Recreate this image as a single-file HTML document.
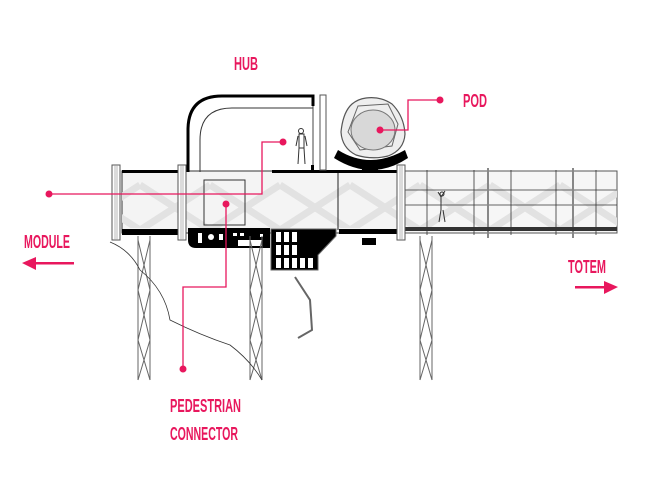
<!DOCTYPE html>
<html><head><meta charset="utf-8"><style>
html,body{margin:0;padding:0;background:#fff;width:646px;height:488px;overflow:hidden}
svg{display:block}
.lb{font-family:"Liberation Sans Narrow","Liberation Sans",sans-serif;font-weight:bold;font-size:18px;fill:#e8175d}
</style></head><body>
<svg width="646" height="488" viewBox="0 0 646 488" xmlns="http://www.w3.org/2000/svg">
<defs>
<pattern id="x" width="70" height="60" patternUnits="userSpaceOnUse">
<path d="M0 5 L70 50 M0 50 L70 5" stroke="#e2e2e2" stroke-width="7" fill="none"/>
</pattern>
</defs>
<rect x="122" y="171" width="278" height="62" fill="#f4f4f4" stroke="#333" stroke-width="1"/>
<rect x="122" y="176" width="278" height="52" fill="url(#x)"/>
<rect x="400" y="171" width="217" height="62" fill="#f6f6f6" stroke="#555" stroke-width="1"/>
<rect x="400" y="176" width="217" height="52" fill="url(#x)"/>
<g stroke="#333" stroke-width="0.8">
<line x1="400" y1="190" x2="617" y2="190"/><line x1="400" y1="205" x2="617" y2="205"/>
<line x1="427" y1="170" x2="427" y2="235"/><line x1="474" y1="170" x2="474" y2="235"/>
<line x1="511" y1="170" x2="511" y2="235"/><line x1="556" y1="170" x2="556" y2="235"/>
<line x1="596" y1="170" x2="596" y2="235"/>
</g>
<g stroke="#888" stroke-width="2"><line x1="488" y1="168" x2="488" y2="238"/><line x1="573" y1="168" x2="573" y2="238"/></g>
<rect x="400" y="227" width="217" height="4" fill="#333"/>
<rect x="122" y="170" width="58" height="3" fill="#000"/>
<rect x="122" y="229" width="58" height="6" fill="#000"/>
<rect x="272" y="170" width="128" height="3" fill="#000"/>
<line x1="338" y1="173" x2="338" y2="230" stroke="#222" stroke-width="1"/>
<rect x="339" y="229" width="60" height="5" fill="#000"/>
<g fill="#fff" stroke="#555" stroke-width="1">
<rect x="112" y="165" width="8" height="75"/><rect x="178" y="165" width="8" height="75"/>
<rect x="397" y="165" width="8" height="75"/><rect x="320" y="95" width="6" height="75"/>
</g>
<g stroke="#999" stroke-width="0.7">
<line x1="115" y1="165" x2="115" y2="240"/><line x1="117" y1="165" x2="117" y2="240"/>
<line x1="181" y1="165" x2="181" y2="240"/><line x1="183" y1="165" x2="183" y2="240"/>
<line x1="400" y1="165" x2="400" y2="240"/><line x1="402" y1="165" x2="402" y2="240"/>
</g>
<path d="M188 172 V130 Q188 96 222 96 H313 V106" fill="none" stroke="#000" stroke-width="3"/>
<path d="M200 172 V140 Q200 108 232 108 H313" fill="none" stroke="#333" stroke-width="1"/>
<line x1="313" y1="106" x2="313" y2="170" stroke="#444" stroke-width="1"/>
<rect x="311" y="165" width="3" height="7" fill="#000"/>
<rect x="204" y="180" width="41" height="45" fill="none" stroke="#333" stroke-width="1"/>
<g stroke="#333" fill="none" stroke-width="1"><circle cx="301" cy="131" r="2.5"/><path d="M299 134 h5 v14 h-5z M299 148 l-1 16 M304 148 l1 16 M298 136 l-2 10 M305 136 l2 10"/></g>
<g stroke="#333" fill="none" stroke-width="1"><circle cx="442" cy="194" r="2"/><path d="M441 196 v14 l-2 12 M443 210 l2 12 M438 192 l3 5 l4 -6"/></g>
<path d="M188 228 H270 V248 H196 Q188 248 188 240Z" fill="#000"/>
<g fill="#fff"><rect x="198" y="233" width="4" height="10"/><circle cx="211" cy="237" r="3"/><rect x="219" y="234" width="4" height="6"/><rect x="233" y="233" width="4" height="3"/><rect x="240" y="233" width="4" height="3"/><rect x="260" y="234" width="3" height="3"/><rect x="238" y="240" width="24" height="6"/></g>
<path d="M271 229 H336 V236 L318 255 V270 H271Z" fill="#000" stroke="#666"/>
<g fill="#fff"><rect x="276" y="232" width="5" height="10"/><rect x="284" y="232" width="5" height="10"/><rect x="292" y="232" width="5" height="10"/><rect x="276" y="245" width="5" height="10"/><rect x="284" y="245" width="5" height="10"/><rect x="292" y="245" width="5" height="10"/><rect x="276" y="258" width="5" height="10"/><rect x="284" y="258" width="5" height="10"/><rect x="292" y="258" width="5" height="10"/><rect x="300" y="258" width="5" height="10"/><rect x="308" y="258" width="5" height="10"/></g>
<rect x="362" y="238" width="14" height="7" fill="#000"/>
<g stroke="#666" stroke-width="1" fill="none">
<path d="M138 236 V380 M150 236 V380 M138 240 L150 290 L138 340 L150 380 M150 240 L138 290 L150 340 L138 380"/>
<path d="M250 236 V380 M262 236 V380 M250 240 L262 290 L250 340 L262 380 M262 240 L250 290 L262 340 L250 380"/>
<path d="M420 236 V380 M432 236 V380 M420 240 L432 290 L420 340 L432 380 M432 240 L420 290 L432 340 L420 380"/>
</g>
<path d="M110 242 Q130 250 140 270 Q165 290 170 320 Q200 335 230 345 Q250 360 262 380" fill="none" stroke="#333" stroke-width="0.8"/>
<path d="M295 277 L310 300 L312 330 L298 338" fill="none" stroke="#666" stroke-width="2"/>
<path d="M338 150 Q370 170 405 150 L408 158 Q372 182 334 158Z" fill="#000"/>
<rect x="362" y="160" width="16" height="10" fill="#000"/>
<path d="M366 98 Q380 96 392 104 Q404 116 405 134 Q404 150 388 156 Q372 160 356 155 Q342 148 341 132 Q343 112 352 104 Q358 99 366 98Z" fill="#eee" stroke="#555" stroke-width="1.2"/>
<polygon points="358,106 388,104 398,124 392,146 360,150 348,132" fill="none" stroke="#666" stroke-width="1"/>
<ellipse cx="373" cy="130" rx="22" ry="20" fill="#d8d8d8" stroke="#777"/>
<g stroke="#e8175d" stroke-width="1.3" fill="none">
<path d="M49 194 H262 V142 H283"/>
<path d="M226 204 V287 H183 V369"/>
<path d="M380 130 H408 V100 H440"/>
</g>
<g fill="#e8175d">
<circle cx="49" cy="194" r="3.5"/><circle cx="283" cy="142" r="3.5"/><circle cx="226" cy="204" r="3.5"/><circle cx="183" cy="369" r="3.5"/><circle cx="380" cy="130" r="3.5"/><circle cx="440" cy="100" r="3.5"/>
<rect x="34" y="262" width="40" height="2.5"/><polygon points="22,263 36,257 36,270"/>
<rect x="575" y="286" width="32" height="2.5"/><polygon points="618,287 604,281 604,294"/>
</g>
<g class="lb">
<text x="234" y="70" textLength="24" lengthAdjust="spacingAndGlyphs">HUB</text>
<text x="463" y="107" textLength="24" lengthAdjust="spacingAndGlyphs">POD</text>
<text x="24" y="248" textLength="46" lengthAdjust="spacingAndGlyphs">MODULE</text>
<text x="568" y="273" textLength="38" lengthAdjust="spacingAndGlyphs">TOTEM</text>
<text x="170" y="412" textLength="71" lengthAdjust="spacingAndGlyphs">PEDESTRIAN</text>
<text x="170" y="440" textLength="68" lengthAdjust="spacingAndGlyphs">CONNECTOR</text>
</g>
</svg>
</body></html>
